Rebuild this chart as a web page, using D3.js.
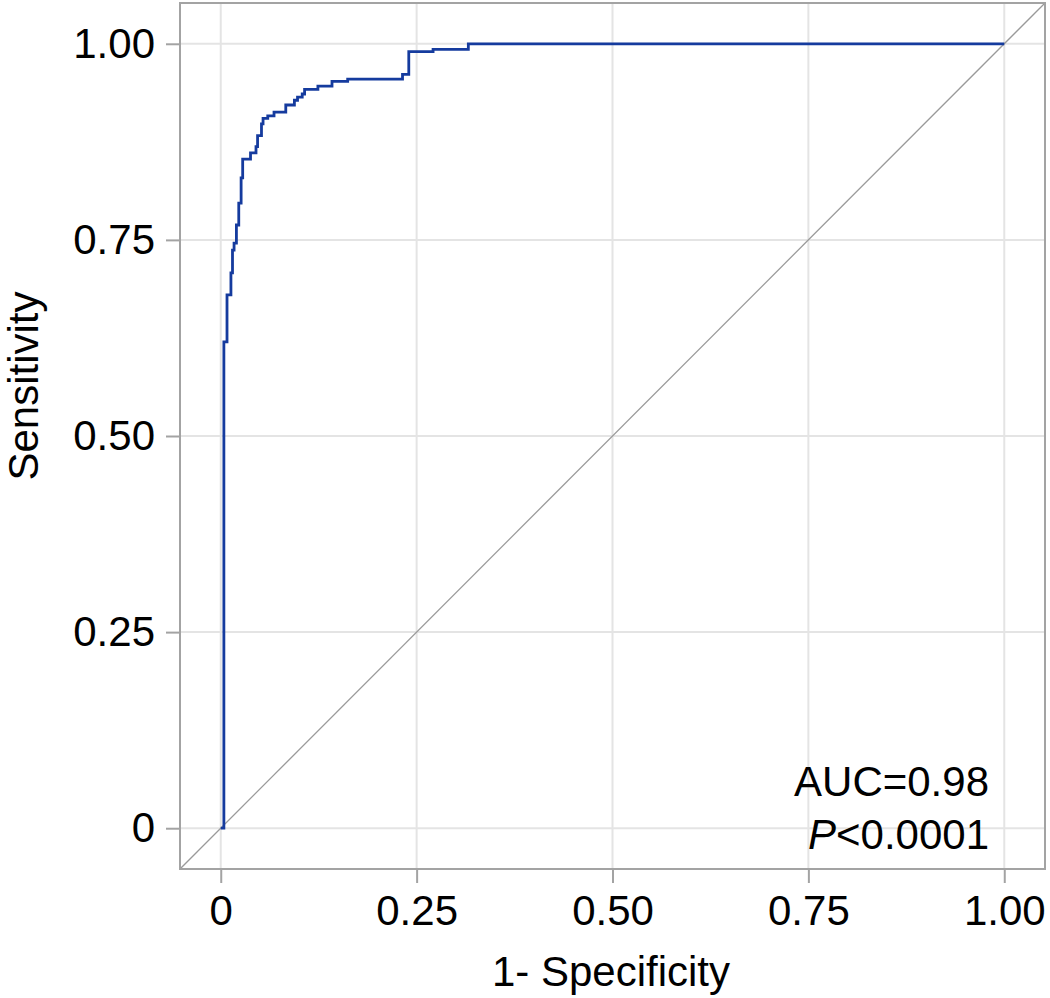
<!DOCTYPE html>
<html>
<head>
<meta charset="utf-8">
<script src="https://cdn.jsdelivr.net/npm/d3@7/dist/d3.min.js"></script>
<style>
  html, body { margin: 0; padding: 0; background: #fff; }
  svg { display: block; }
  text { font-family: "Liberation Sans", Arial, sans-serif; fill: #000; }
</style>
</head>
<body>
<svg id="chart" width="1050" height="998"></svg>
<script>
// ROC curve step points (1 - specificity, sensitivity)
const fpr = [0, 0.004, 0.008, 0.013, 0.015, 0.017, 0.020, 0.023, 0.026, 0.028,
             0.038, 0.045, 0.047, 0.052, 0.054, 0.060, 0.068, 0.083, 0.094, 0.098,
             0.104, 0.107, 0.124, 0.142, 0.162, 0.232, 0.240, 0.271, 0.316, 1.0];
const tpr = [0, 0.620, 0.680, 0.708, 0.737, 0.746, 0.769, 0.797, 0.829, 0.853,
             0.861, 0.869, 0.883, 0.898, 0.905, 0.908, 0.913, 0.922, 0.928, 0.932,
             0.936, 0.942, 0.946, 0.952, 0.955, 0.961, 0.990, 0.993, 1.0, 1.0];
const tickValues = [0, 0.25, 0.5, 0.75, 1.0];
const tickLabels = ["0", "0.25", "0.50", "0.75", "1.00"];
const xTitle = "1- Specificity";
const yTitle = "Sensitivity";
const aucText = "AUC=0.98";
const pText = "<0.0001";

const svg = d3.select("#chart");
const pLeft = 180, pRight = 1045, pTop = 3, pBottom = 869;
const x = d3.scaleLinear().domain([-0.052, 1.052]).range([pLeft, pRight]);
const y = d3.scaleLinear().domain([-0.052, 1.052]).range([pBottom, pTop]);

// gridlines
const grid = svg.append("g");
grid.selectAll("line.gx").data(tickValues).join("line")
  .attr("class", "gx")
  .attr("x1", d => x(d)).attr("x2", d => x(d))
  .attr("y1", pTop).attr("y2", pBottom)
  .attr("stroke", "#e4e4e4").attr("stroke-width", 2);
grid.selectAll("line.gy").data(tickValues).join("line")
  .attr("class", "gy")
  .attr("y1", d => y(d)).attr("y2", d => y(d))
  .attr("x1", pLeft).attr("x2", pRight)
  .attr("stroke", "#e4e4e4").attr("stroke-width", 2);

// diagonal reference line
svg.append("line")
  .attr("x1", x(-0.052)).attr("y1", y(-0.052))
  .attr("x2", x(1.052)).attr("y2", y(1.052))
  .attr("stroke", "#9a9a9a").attr("stroke-width", 1.3);

// ROC curve
const pts = fpr.map((f, i) => [f, tpr[i]]);
const line = d3.line().x(d => x(d[0])).y(d => y(d[1])).curve(d3.curveStepAfter);
svg.append("path").datum(pts)
  .attr("d", line)
  .attr("fill", "none")
  .attr("stroke", "#153b9e")
  .attr("stroke-width", 2.8);

// frame
svg.append("rect")
  .attr("x", pLeft).attr("y", pTop)
  .attr("width", pRight - pLeft).attr("height", pBottom - pTop)
  .attr("fill", "none").attr("stroke", "#a3a3a3").attr("stroke-width", 2);

// axes
const fmt = d => tickLabels[tickValues.indexOf(d)];
const xAxis = svg.append("g").attr("transform", `translate(0,${pBottom})`)
  .call(d3.axisBottom(x).tickValues(tickValues).tickFormat(fmt).tickSizeInner(14).tickSizeOuter(0).tickPadding(12));
const yAxis = svg.append("g").attr("transform", `translate(${pLeft},0)`)
  .call(d3.axisLeft(y).tickValues(tickValues).tickFormat(fmt).tickSizeInner(14).tickSizeOuter(0).tickPadding(11));
[xAxis, yAxis].forEach(g => {
  g.select(".domain").remove();
  g.selectAll(".tick line").attr("stroke", "#a3a3a3").attr("stroke-width", 2);
  g.selectAll(".tick text").attr("font-size", 42)
    .attr("font-family", "'Liberation Sans', Arial, sans-serif").attr("fill", "#000");
});

// axis titles
svg.append("text")
  .attr("x", 611).attr("y", 986)
  .attr("text-anchor", "middle").attr("font-size", 42)
  .text(xTitle);
svg.append("text")
  .attr("transform", "translate(38,386) rotate(-90)")
  .attr("text-anchor", "middle").attr("font-size", 42)
  .text(yTitle);

// annotation
svg.append("text")
  .attr("x", 989).attr("y", 796)
  .attr("text-anchor", "end").attr("font-size", 42)
  .text(aucText);
const pt = svg.append("text")
  .attr("x", 989).attr("y", 849)
  .attr("text-anchor", "end").attr("font-size", 42);
pt.append("tspan").attr("font-style", "italic").text("P");
pt.append("tspan").text(pText);
</script>
</body>
</html>
